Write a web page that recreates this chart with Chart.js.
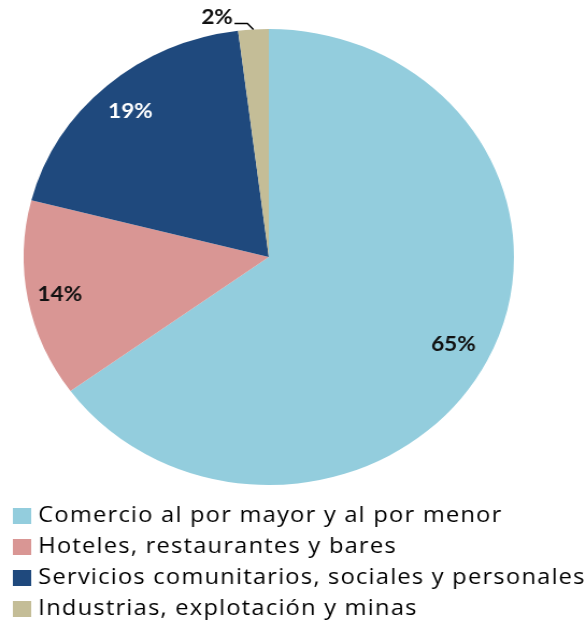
<!DOCTYPE html>
<html><head><meta charset="utf-8">
<script src="https://cdn.jsdelivr.net/npm/chart.js@4.4.1/dist/chart.umd.min.js"></script>
<style>
html,body{margin:0;padding:0;background:#fff;overflow:hidden;width:586px;height:622px}
canvas{display:block}
</style></head>
<body>
<canvas id="c" width="545" height="630" style="width:586px;height:630px"></canvas>
<script>
const categories = [
  'Comercio al por mayor y al por menor',
  'Hoteles, restaurantes y bares',
  'Servicios comunitarios, sociales y personales',
  'Industrias, explotación y minas'
];
const values = [65, 14, 19, 2];
const valueLabels = ['65%', '14%', '19%', '2%'];
const colors = ['#93CDDD', '#D99694', '#1F497D', '#C4BD97'];
const labelColors = ['#111111', '#111111', '#ffffff', '#111111'];
const labelRadiusFrac = [0.845, 0.868, 0.854, null];

function swatch(color) {
  const c = document.createElement('canvas');
  c.width = 17; c.height = 16;
  const g = c.getContext('2d');
  g.fillStyle = color; g.fillRect(0, 0, 17, 16);
  return c;
}
const swatches = colors.map(swatch);

const spacing = {
  id: 'spacing',
  beforeUpdate(chart) { chart.ctx.letterSpacing = '1.15px'; },
  afterLayout(chart) {
    if (chart.legend) {
      chart.legend.right = chart.width;
      chart.legend.width = chart.width - chart.legend.left;
    }
  },
  beforeDraw(chart) { chart.ctx.letterSpacing = '1.15px'; }
};

const pieLabels = {
  id: 'pieLabels',
  afterDatasetsDraw(chart) {
    const ctx = chart.ctx;
    const meta = chart.getDatasetMeta(0);
    ctx.save();
    ctx.letterSpacing = '0px';
    ctx.font = 'bold 21px Lato';
    meta.data.forEach((arc, i) => {
      const p = arc.getProps(['x', 'y', 'startAngle', 'endAngle', 'outerRadius'], true);
      const mid = (p.startAngle + p.endAngle) / 2;
      const f = labelRadiusFrac[i];
      ctx.fillStyle = labelColors[i];
      if (f) {
        ctx.textAlign = 'center';
        ctx.textBaseline = 'middle';
        ctx.fillText(valueLabels[i], p.x + Math.cos(mid) * p.outerRadius * f, p.y + Math.sin(mid) * p.outerRadius * f);
      } else {
        const ex = p.x + Math.cos(mid) * p.outerRadius;
        const ey = p.y + Math.sin(mid) * p.outerRadius;
        const kx = ex - 5.6, ky = ey - 6;
        const hx = kx - 12;
        ctx.strokeStyle = '#000';
        ctx.lineWidth = 1.5;
        ctx.beginPath();
        ctx.moveTo(ex, ey);
        ctx.lineTo(kx, ky);
        ctx.lineTo(hx, ky);
        ctx.stroke();
        ctx.textAlign = 'right';
        ctx.textBaseline = 'alphabetic';
        ctx.fillText(valueLabels[i], hx - 1.5, ky + 0.5);
      }
    });
    ctx.restore();
  }
};

new Chart(document.getElementById('c'), {
  type: 'pie',
  data: {
    labels: categories,
    datasets: [{
      data: values,
      backgroundColor: colors,
      borderWidth: 0,
      radius: 228
    }]
  },
  options: {
    responsive: false,
    devicePixelRatio: 1,
    animation: false,
    layout: { padding: { top: 18, left: 7, right: 52, bottom: 0 } },
    plugins: {
      tooltip: { enabled: false },
      legend: {
        position: 'bottom',
        align: 'start',
        labels: {
          usePointStyle: true,
          pointStyleWidth: 8.6,
          padding: 9,
          color: '#000',
          font: { family: 'Open Sans', size: 22 },
          generateLabels(chart) {
            return categories.map((t, i) => ({
              text: t,
              fillStyle: colors[i],
              strokeStyle: colors[i],
              lineWidth: 0,
              pointStyle: swatches[i],
              hidden: false,
              index: i
            }));
          }
        }
      }
    }
  },
  plugins: [spacing, pieLabels]
});
</script>
</body></html>
